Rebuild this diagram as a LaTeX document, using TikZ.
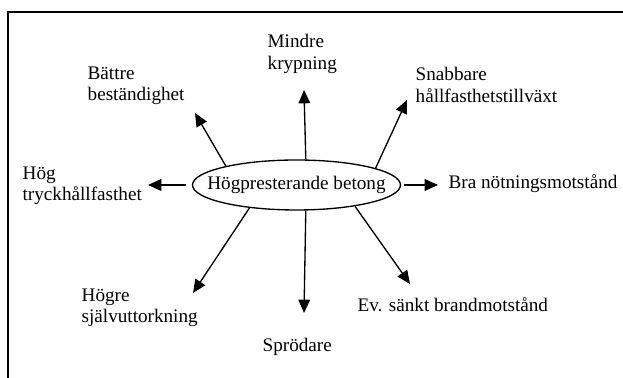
\documentclass[tikz,border=0pt]{standalone}
\usepackage{fontspec}
\setmainfont{Liberation Serif}
\usetikzlibrary{shapes.geometric,arrows.meta}
\tikzset{
every picture/.style={
line width=0.8pt
}}

\begin{document}
\begin{tikzpicture}[x=0.6pt, y=-0.6pt,
txt/.style = {align=left, inner sep=0pt, font=\fontsize{11.5}{12.9}\selectfont},
pil/.style = {-{Triangle[length=8pt,width=7pt]}}]

\useasboundingbox (0,0) rectangle (623,378);
\draw [line width=1.2pt] (8,378) -- (8,12) -- (623,12);

% ellipse kept at 208 px wide, text would make it wider
\node [txt, ellipse, draw, inner xsep=-9.5pt, inner ysep=0pt, minimum width=124.8pt, minimum height=30pt] (hpb) at (296.5,185) {Högpresterande betong};

\node [txt, anchor=north west] (krypning) at (267,34) {Mindre\\krypning};
\node [txt, anchor=north west] (bestand) at (87,66) {Bättre\\beständighet};
\node [txt, anchor=north west] (tillvaxt) at (415,67) {Snabbare\\hållfasthetstillväxt};
\node [txt, anchor=north west] (tryck) at (22,166) {Hög\\tryckhållfasthet};
\node [txt, anchor=base west] (notning) at (448,189) {Bra nötningsmotstånd};
\node [txt, anchor=north west] (uttork) at (81,288) {Högre\\självuttorkning};
\node [txt, anchor=base west] (sprod) at (262,352) {Sprödare};
\node [txt, anchor=base west] (brand) at (357,312) {Ev. sänkt brandmotstånd};

\coordinate (tipNW) at (195,113);
\coordinate (tipN) at (304,90);
\coordinate (tipNE) at (407,100);
\coordinate (tipW) at (148,185);
\coordinate (tipE) at (438,185);
\coordinate (tipSW) at (193,293);
\coordinate (tipS) at (304,313);
\coordinate (tipSE) at (410,284);

\draw [pil] (hpb.165) -- (tipNW);
\draw [pil] (hpb.70) -- (tipN);
\draw [pil] (hpb.12) -- (tipNE);
\draw [pil, shorten <=3.6pt] (hpb.west) -- (tipW);
\draw [pil, shorten <=1.8pt] (hpb.east) -- (tipE);
\draw [pil] (hpb.206) -- (tipSW);
\draw [pil] (hpb.290) -- (tipS);
\draw [pil] (hpb.340) -- (tipSE);
\end{tikzpicture}
\end{document}
